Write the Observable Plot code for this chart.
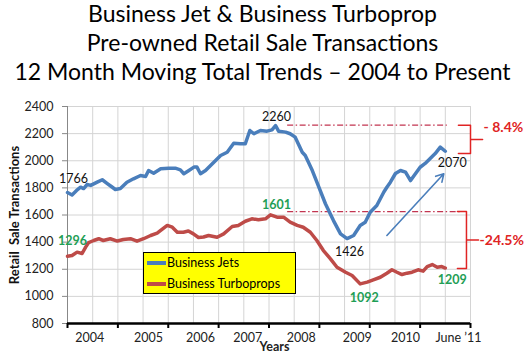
<!DOCTYPE html>
<html>
<head>
<meta charset="utf-8">
<script src="https://cdn.jsdelivr.net/npm/d3@7"></script>
<script src="https://cdn.jsdelivr.net/npm/@observablehq/plot@0.6"></script>
<style>
  html, body { margin: 0; padding: 0; background: #fff; }
  #wrap { position: relative; width: 525px; height: 357px; font-family: Lato, "Open Sans", sans-serif; }
  #title { position: absolute; left: 0; top: -1px; width: 525px; text-align: center; font-size: 23px; line-height: 29px; color: #000; }
  #legend { position: absolute; left: 143px; top: 252px; width: 151px; height: 40px; background: #ffff00; border: 1px solid #000; font-size: 12.5px; color: #000; }
  .item { position: absolute; left: 3px; height: 20px; line-height: 20px; white-space: nowrap; }
  .sw { display: inline-block; width: 19px; height: 3.5px; vertical-align: middle; margin-right: 1px; position: relative; top: -1px; }
  svg text { white-space: pre; }
</style>
</head>
<body>
<div id="wrap">
  <div id="title">Business Jet &amp; Business Turboprop<br>Pre-owned Retail Sale Transactions<br>12 Month Moving Total Trends – 2004 to Present</div>
  <div id="chart"></div>
  <div id="legend">
    <div class="item" style="top:0px"><span class="sw" style="background:#4a7ebb"></span>Business Jets</div>
    <div class="item" style="top:21px"><span class="sw" style="background:#be4b48"></span>Business Turboprops</div>
  </div>
</div>
<script>
// Business jets: 12-month moving total (time in decimal years)
const jetYears = [2004.00,2004.09,2004.18,2004.26,2004.32,2004.39,2004.46,2004.59,2004.69,2004.79,2004.87,2004.95,
  2005.05,2005.18,2005.31,2005.45,2005.55,2005.61,2005.71,2005.85,2006.01,2006.14,2006.24,2006.31,2006.41,2006.51,2006.57,
  2006.64,2006.74,2006.84,2006.94,2007.04,2007.17,2007.30,2007.43,2007.53,2007.62,2007.70,2007.83,2007.96,2008.06,2008.13,
  2008.19,2008.33,2008.42,2008.52,2008.66,2008.72,2008.86,2008.99,2009.12,2009.28,2009.42,2009.55,2009.68,2009.81,2009.91,
  2010.01,2010.14,2010.28,2010.34,2010.41,2010.51,2010.61,2010.71,2010.81,2010.91,2011.00,2011.10,2011.20,2011.30,2011.40,2011.50];
const jetSales = [1766,1748,1781,1805,1795,1825,1818,1842,1860,1832,1810,1788,
  1795,1842,1867,1891,1884,1928,1908,1941,1945,1945,1933,1904,1928,1953,1953,
  1904,1928,1965,2002,2039,2063,2129,2125,2125,2223,2199,2223,2218,2228,2260,
  2218,2211,2199,2174,2063,2039,1928,1805,1683,1559,1461,1426,1449,1523,1547,
  1621,1670,1770,1805,1842,1906,1928,1916,1854,1906,1952,1980,2017,2053,2100,2070];

// Business turboprops
const turboYears = [2004.00,2004.09,2004.19,2004.29,2004.36,2004.42,2004.52,2004.62,2004.71,2004.85,2004.99,
  2005.11,2005.25,2005.38,2005.51,2005.65,2005.78,2005.85,2005.98,2006.08,2006.18,2006.30,2006.40,2006.50,2006.60,
  2006.70,2006.80,2006.97,2007.10,2007.27,2007.39,2007.53,2007.66,2007.79,2007.93,2008.03,2008.16,2008.29,2008.42,
  2008.56,2008.68,2008.82,2008.95,2009.08,2009.22,2009.35,2009.52,2009.65,2009.81,2009.95,2010.07,2010.21,2010.34,
  2010.44,2010.54,2010.64,2010.74,2010.84,2010.96,2011.06,2011.14,2011.24,2011.34,2011.43,2011.50];
const turboSales = [1296,1301,1326,1316,1363,1397,1412,1425,1412,1425,1408,
  1419,1425,1407,1425,1449,1466,1486,1523,1510,1473,1473,1482,1461,1434,
  1438,1449,1436,1461,1515,1523,1554,1572,1565,1572,1601,1584,1584,1547,
  1523,1510,1473,1412,1338,1277,1215,1178,1154,1092,1105,1122,1141,1171,
  1196,1178,1161,1171,1178,1196,1186,1220,1235,1215,1220,1209];

const yTicks = [800,1000,1200,1400,1600,1800,2000,2200,2400];
const yearTicks = [2004,2005,2006,2007,2008,2009,2010,2011,2012];
const xTickLabels = ["2004","2005","2006","2007","2008","2009","2010","June \u201911"];
const xTickLabelAt = [2004.44,2005.61,2006.64,2007.58,2008.64,2009.75,2010.71,2011.76];
const pctLabels = ["- 8.4%","-24.5%"];

const jets = jetYears.map((t, i) => ({t, v: jetSales[i]}));
const turbo = turboYears.map((t, i) => ({t, v: turboSales[i]}));
const halfYears = d3.range(2004.5, 2012.01, 0.5);

const BLUE = "#4a7ebb", RED = "#be4b48", GREEN = "#1f9e55", BR = "#e02424", DD = "#c23550";

// value labels taken from the series
const iJetPeak = jetSales.indexOf(d3.max(jetSales));
const iJetMin = jetSales.indexOf(d3.min(jetSales));
const iTurPeak = turboSales.indexOf(d3.max(turboSales));
const iTurMin = turboSales.indexOf(d3.min(turboSales));
const nJ = jetSales.length - 1, nT = turboSales.length - 1;
const blackLabels = [
  [{t: jetYears[0], v: jetSales[0]}, 6, -13],
  [{t: jetYears[iJetPeak], v: jetSales[iJetPeak]}, 1, -8],
  [{t: jetYears[iJetMin], v: jetSales[iJetMin]}, 2.5, 13],
  [{t: jetYears[nJ], v: jetSales[nJ]}, 7, 12]
];
const greenLabels = [
  [{t: turboYears[0], v: turboSales[0]}, 5, -15],
  [{t: turboYears[iTurPeak], v: turboSales[iTurPeak]}, 6, -9.5],
  [{t: turboYears[iTurMin], v: turboSales[iTurMin]}, 4, 14.5],
  [{t: turboYears[nT], v: turboSales[nT]}, 7, 11.5]
];

// brackets (right curly) around the drop from peaks
function brace(xs, xv, xt, top, bottom) {
  const mid = (top + bottom) / 2;
  return [[xs, top], [xv, top], [xv, mid], [xt, mid], [xv, mid], [xv, bottom], [xs, bottom]].map(([t, v]) => ({t, v}));
}
const upBrace = brace(2011.76, 2012.0, 2012.24, 2262, 2053);
const loBrace = brace(2011.74, 2011.92, 2012.16, 1625, 1206);

const chart = Plot.plot({
  width: 525,
  height: 357,
  marginLeft: 67,
  marginRight: 55,
  marginTop: 106,
  marginBottom: 34,
  style: {fontFamily: "Lato, 'Open Sans', sans-serif", fontSize: "12px", background: "transparent", color: "#222", overflow: "visible"},
  x: {type: "linear", domain: [2004, 2012]},
  y: {domain: [800, 2400]},
  marks: [
    Plot.gridX(halfYears, {stroke: "#d4d4d4", strokeOpacity: 1}),
    Plot.gridY(yTicks, {stroke: "#d4d4d4", strokeOpacity: 1}),
    Plot.axisY(yTicks, {tickSize: 5, tickPadding: 9, stroke: "#888", fontSize: 12.5, tickFormat: d => String(d), label: null, fill: "#222"}),
    Plot.ruleX([2004], {stroke: "#888"}),
    Plot.axisX(yearTicks, {tickSize: 5, tickFormat: () => "", label: null, stroke: "#000", strokeWidth: 2}),
    Plot.ruleY([800], {stroke: "#000", strokeWidth: 2.5}),
    Plot.text(xTickLabels, {x: (d, i) => xTickLabelAt[i], y: () => 800, text: d => d, dy: 14, fontSize: 12.5, fill: "#222"}),
    Plot.text(["Years"], {frameAnchor: "bottom", dx: 5.5, dy: 27, fontWeight: "bold", fontSize: 12.5, fill: "#222"}),
    Plot.text(["Retail  Sale Transactions"], {frameAnchor: "left", textAnchor: "middle", rotate: -90, dx: -53, fontWeight: "bold", fontSize: 13, fill: "#111"}),
    // dash-dot reference levels
    Plot.ruleY([2262], {x1: 2008.37, x2: 2011.54, stroke: DD, strokeWidth: 1.2, strokeDasharray: "6,2.5,1.5,2.5"}),
    Plot.ruleY([1625], {x1: 2008.37, x2: 2011.84, stroke: DD, strokeWidth: 1.2, strokeDasharray: "6,2.5,1.5,2.5"}),
    // series
    Plot.line(turbo, {x: "t", y: "v", stroke: RED, strokeWidth: 3.5, curve: "linear"}),
    Plot.line(jets, {x: "t", y: "v", stroke: BLUE, strokeWidth: 3.5, curve: "linear"}),
    // trend arrow
    Plot.arrow([{x1: 2010.34, y1: 1449, x2: 2011.47, y2: 1904}], {x1: "x1", y1: "y1", x2: "x2", y2: "y2", stroke: BLUE, strokeWidth: 1.6, headLength: 8}),
    // value labels
    ...blackLabels.map(([d, dx, dy]) => Plot.text([d], {x: "t", y: "v", text: d => String(d.v), dx, dy, fontSize: 12.5, fill: "#111"})),
    ...greenLabels.map(([d, dx, dy]) => Plot.text([d], {x: "t", y: "v", text: d => String(d.v), dx, dy, fontSize: 12.5, fontWeight: "bold", fill: GREEN})),
    // braces and percent labels
    Plot.line(upBrace, {x: "t", y: "v", stroke: BR, strokeWidth: 1.5}),
    Plot.line(loBrace, {x: "t", y: "v", stroke: BR, strokeWidth: 1.5}),
    Plot.text([pctLabels[0]], {x: () => 2012.26, y: () => 2245, text: d => d, textAnchor: "start", fontSize: 14, fontWeight: "bold", fill: BR}),
    Plot.text([pctLabels[1]], {x: () => 2012.18, y: () => 1412, text: d => d, textAnchor: "start", fontSize: 14, fontWeight: "bold", fill: BR})
  ]
});
document.getElementById("chart").appendChild(chart);
</script>
</body>
</html>
